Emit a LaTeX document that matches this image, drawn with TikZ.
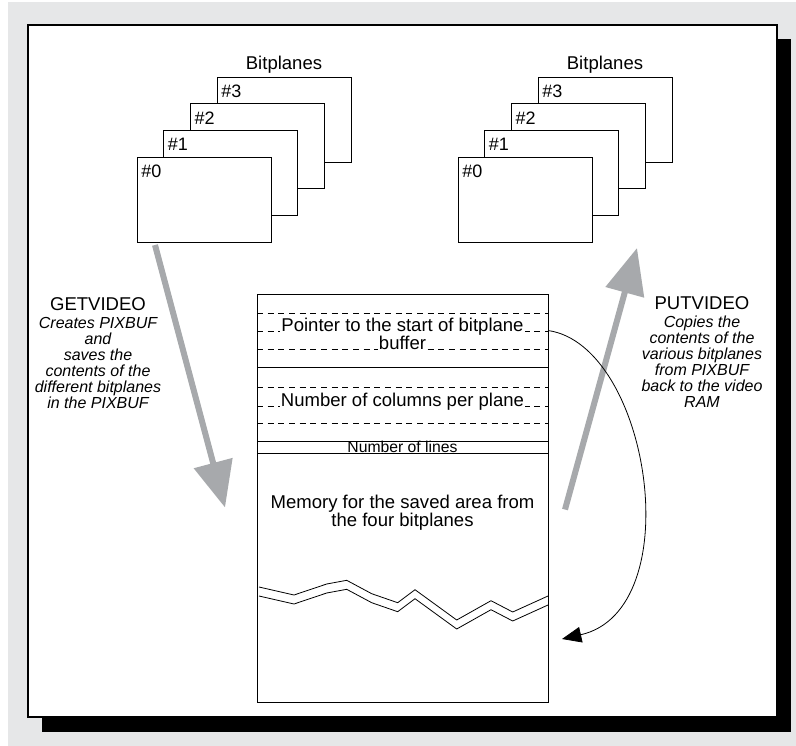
\documentclass[tikz,border=0pt]{standalone}
\usepackage{fontspec}
\setmainfont{Liberation Sans}
\usetikzlibrary{arrows.meta,positioning}
\definecolor{pagegray}{HTML}{E6E7E8}
\definecolor{arrowgray}{HTML}{A7A9AC}

\begin{document}
\begin{tikzpicture}[x=0.75pt, y=-0.75pt,
  plane/.style={rectangle, draw, line width=0.7pt, fill=white, minimum width=100.5pt, minimum height=63.75pt, inner sep=0pt, outer sep=0pt, anchor=north west},
  num/.style={anchor=north west, inner xsep=3pt, inner ysep=6pt, font=\fontsize{13.5}{16}\selectfont},
  title/.style={anchor=base, font=\fontsize{13.9}{16}\selectfont},
  field/.style={rectangle, draw, line width=0.6pt, minimum width=218.25pt, inner sep=0pt, outer sep=0pt, anchor=north west},
  fieldtext/.style={anchor=base, fill=white, inner sep=1pt, font=\fontsize{13.9}{13.5}\selectfont},
  sepline/.style={line width=0.5pt, dash pattern=on 4.5pt off 3.5pt},
  note/.style={align=center, anchor=base, font=\fontsize{12}{12}\selectfont\itshape},
  bigarrow/.style={draw=arrowgray, line width=4.5pt, -{Triangle[length=34.5pt, width=29pt]}}
]
  \useasboundingbox (0,0) rectangle (796,746);
  \fill[pagegray] (8,2) rectangle (796,746);
  \fill[black] (42,39) rectangle (791,732);
  \draw[fill=white, line width=0.8pt] (28,25) rectangle (777,717);

  \node[plane] (l3) at (217,77) {};
  \node[num] at (l3.north west) {\#3};
  \node[plane] (l2) at (190.3,103.7) {};
  \node[num] at (l2.north west) {\#2};
  \node[plane] (l1) at (163.7,130.3) {};
  \node[num] at (l1.north west) {\#1};
  \node[plane] (l0) at (137,157) {};
  \node[num] at (l0.north west) {\#0};
  \node[title] (ltitle) at ([shift={(0,-8)}]l3.north) {Bitplanes};

  \node[plane] (r3) at (538,77) {};
  \node[num] at (r3.north west) {\#3};
  \node[plane] (r2) at (511.3,103.7) {};
  \node[num] at (r2.north west) {\#2};
  \node[plane] (r1) at (484.7,130.3) {};
  \node[num] at (r1.north west) {\#1};
  \node[plane] (r0) at (458,157) {};
  \node[num] at (r0.north west) {\#0};
  \node[title] (rtitle) at ([shift={(0,-8)}]r3.north) {Bitplanes};

  \node[field, minimum height=54.75pt] (ptr) at (257,294) {};
  \node[field, minimum height=55.5pt] (cols) at (257,367) {};
  \node[field, minimum height=9pt] (lines) at (257,441) {};
  \node[field, minimum height=186.75pt] (mem) at (257,453) {};

  \draw[sepline] (257,313) -- (548,313);
  \draw[sepline] (257,331) -- (548,331);
  \draw[sepline] (257,349) -- (548,349);
  \draw[sepline] (257,387) -- (548,387);
  \draw[sepline] (257,406) -- (548,406);
  \draw[sepline] (257,423) -- (548,423);
  \node[fieldtext] (ptrtext) at (402.5,331) {Pointer to the start of bitplane};
  \node[fieldtext] (buftext) at (402.5,349) {buffer};
  \node[fieldtext] (coltext) at (402.5,406) {Number of columns per plane};
  \node[inner sep=0pt, font=\fontsize{11.8}{12}\selectfont] (linetext) at (lines.center) {Number of lines};
  \node[align=center, anchor=base, font=\fontsize{13.9}{13.5}\selectfont] (memtext) at (402.5,526) {Memory for the saved area from\\the four bitplanes};

  \draw[line width=0.6pt] (259,587) -- (294,595) -- (326.7,584) -- (346.7,580.3) -- (371.7,593.7) -- (397.7,602.7) -- (415,589.7) -- (456.7,620) -- (491,600.7) -- (512.7,612) -- (548,596);
  \draw[line width=0.6pt] (259,596) -- (294,604) -- (326.7,593) -- (346.7,589.3) -- (371.7,602.7) -- (397.7,611.7) -- (415,598.7) -- (456.7,629) -- (491,609.7) -- (512.7,621) -- (548,605);

  \draw[bigarrow] ([shift={(18,3)}]l0.south west) -- ([shift={(-32,-70)}]mem.west);
  \draw[bigarrow] ([shift={(17,-68)}]mem.east) -- ([shift={(45,6)}]r0.south east);

  \coordinate (ptrtip) at (562,639);
  \draw[line width=0.6pt, -{Triangle[length=14.5pt, width=11.8pt]}] (ptr.east) .. controls (650,345) and (690,610) .. (ptrtip);

  \node[note] (getnote) at (98,408) {{\upshape\fontsize{13.9}{12}\selectfont GETVIDEO}\\[1.5pt]Creates PIXBUF\\and\\saves the\\contents of the\\different bitplanes\\in the PIXBUF};
  \node[note] (putnote) at (702,407) {{\upshape\fontsize{13.9}{12}\selectfont PUTVIDEO}\\[1.5pt]Copies the\\contents of the\\various bitplanes\\from PIXBUF\\back to the video\\RAM};
\end{tikzpicture}
\end{document}
